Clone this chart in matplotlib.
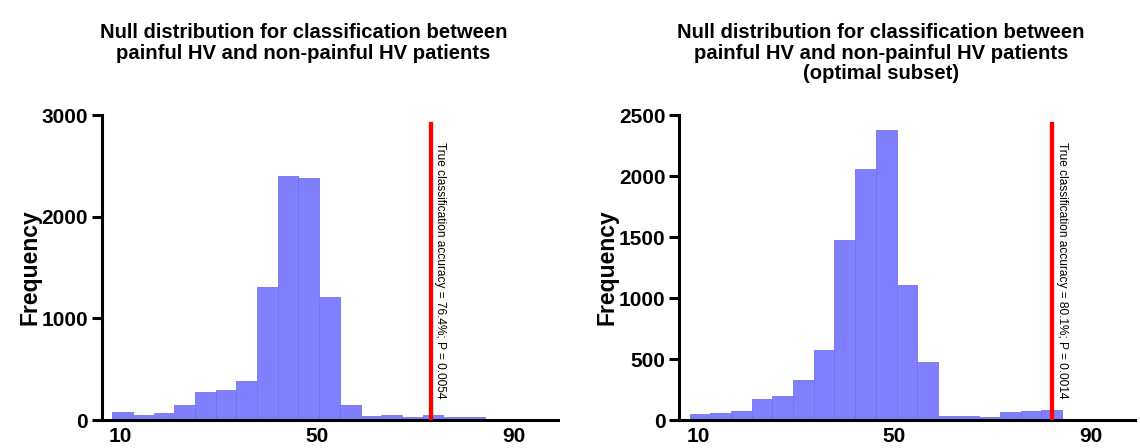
import matplotlib
matplotlib.use("Agg")
import matplotlib.pyplot as plt
import matplotlib.transforms as mtransforms
import numpy as np

plt.rcParams['font.family'] = ['Liberation Sans', 'DejaVu Sans']

# histogram counts (18 bins each)
counts_all = [79, 52, 72, 148, 272, 298, 384, 1311, 2403, 2380, 1210, 148, 39, 49, 26, 49, 26, 26]
counts_opt = [52, 60, 74, 172, 194, 328, 571, 1478, 2055, 2374, 1109, 473, 36, 36, 22, 63, 71, 82]

bin_start = 8.33
bin_width = 4.21

titles = [
    "Null distribution for classification between\npainful HV and non-painful HV patients",
    "Null distribution for classification between\npainful HV and non-painful HV patients\n(optimal subset)",
]
true_acc_x = [73.1, 82.2]          # where the red line sits on the axis
true_labels = [
    "True classification accuracy = 76.4%; P = 0.0054",
    "True classification accuracy = 80.1%; P = 0.0014",
]
y_max = [3000, 2500]
y_step = [1000, 500]
x_ticks = [10, 50, 90]

bar_color = "#8080ff"
edge_color = "#7272ee"

fig = plt.figure(figsize=(11.4, 4.48), dpi=100)
axes = [fig.add_axes([0.0892, 0.0625, 0.4003, 0.6808]),
        fig.add_axes([0.5959, 0.0625, 0.3997, 0.6808])]

for ax, counts, title, lx, lab, ym, ys in zip(axes, [counts_all, counts_opt], titles,
                                               true_acc_x, true_labels, y_max, y_step):
    lefts = bin_start + bin_width * np.arange(len(counts))
    ax.bar(lefts, counts, width=bin_width, align='edge', color=bar_color,
           edgecolor=edge_color, linewidth=0.6, zorder=2)

    ax.axvline(lx, ymin=0, ymax=0.97, color="#ff0000", linewidth=3.1, zorder=3)
    ax.annotate(lab, xy=(lx, 0.911), xycoords=('data', 'axes fraction'),
                xytext=(6.5, 0), textcoords='offset points',
                rotation=270, rotation_mode='anchor', ha='left', va='center',
                fontsize=8.6, color='black', zorder=4)

    ax.set_xlim(6.2, 99)
    ax.set_ylim(0, ym)
    ax.set_xticks(x_ticks)
    ax.set_yticks(np.arange(0, ym + 1, ys))

    for s in ['top', 'right']:
        ax.spines[s].set_visible(False)
    for s in ['left', 'bottom']:
        ax.spines[s].set_linewidth(2.2)

    ax.tick_params(axis='y', length=7, width=2.2, pad=3, labelsize=15)
    ax.tick_params(axis='x', length=0, pad=5, labelsize=15)
    for t in ax.get_xticklabels() + ax.get_yticklabels():
        t.set_fontweight('bold')

    ax.set_ylabel("Frequency", fontsize=16.5, fontweight='bold', labelpad=0)

    tr = mtransforms.blended_transform_factory(ax.transAxes, fig.transFigure)
    ax.text(0.442, 0.948, title, transform=tr, fontsize=14.6, fontweight='bold',
            ha='center', va='top', linespacing=1.1)

fig.savefig("out.png", dpi=100)
